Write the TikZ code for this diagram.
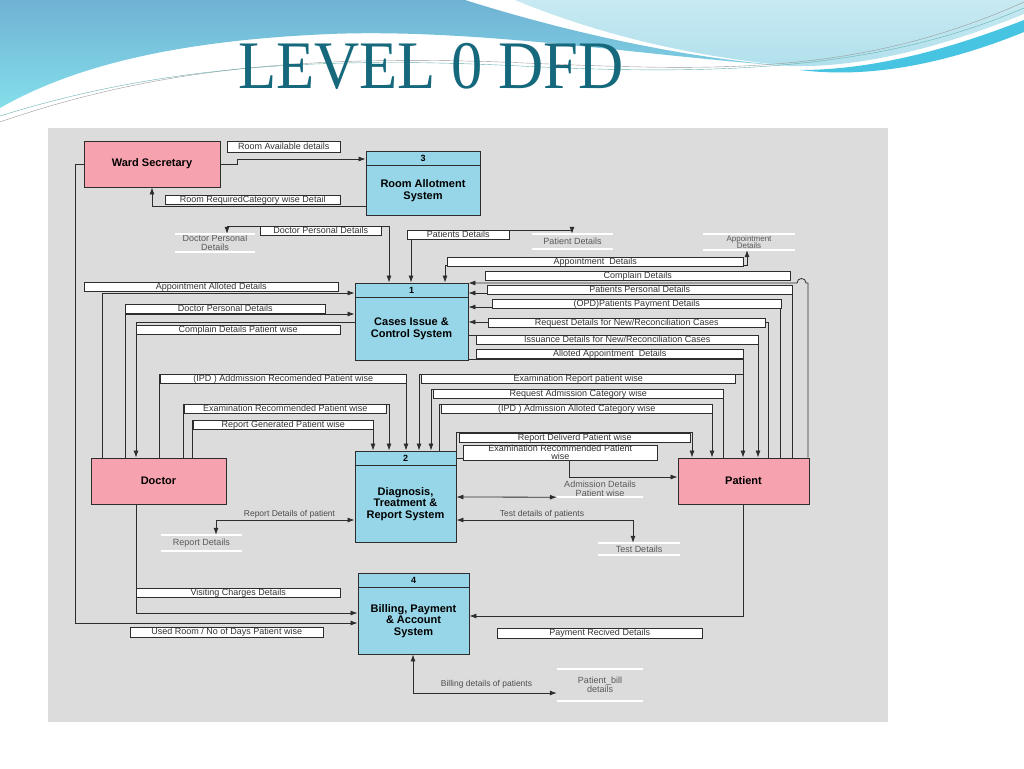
\documentclass[tikz,border=0pt]{standalone}
\usepackage{fontspec}
\setmainfont{Liberation Sans}
\newfontfamily\titlefont{Liberation Serif}
\usepackage{graphicx}
\usepackage{xcolor}
\usepackage{tikz}
\usetikzlibrary{arrows.meta,calc}

\definecolor{panelgray}{RGB}{220,220,220}
\definecolor{entpink}{RGB}{247,163,175}
\definecolor{procblue}{RGB}{150,214,232}
\definecolor{titleteal}{RGB}{22,105,125}
\definecolor{wavedark}{RGB}{112,178,212}
\definecolor{wavecyan}{RGB}{132,222,234}
\definecolor{wavelight}{RGB}{176,224,236}
\definecolor{wavestripe}{RGB}{70,196,226}
\definecolor{linegray}{RGB}{45,45,45}

\begin{document}
\begin{tikzpicture}[x=1pt,y=-1pt,>={Latex[length=7,width=5]},
  flow/.style={draw=linegray,line width=0.8pt},
  entity/.style={draw=linegray,line width=0.9pt,fill=entpink,font=\fontsize{11}{12}\selectfont\bfseries},
  proc/.style={draw=linegray,line width=0.9pt,fill=procblue},
  procnum/.style={font=\fontsize{9}{10}\selectfont\bfseries,inner sep=0pt},
  proctxt/.style={align=center,font=\fontsize{11}{11.5}\selectfont\bfseries,inner sep=0pt},
  lblbox/.style={draw=linegray,line width=0.5pt,fill=white,inner sep=0.5pt,anchor=north west,
    font=\fontsize{9}{10}\selectfont,text=black!80},
  lbl/.style={lblbox,text height=6.3,text depth=1.7},
  store/.style={inner sep=0pt,align=center,font=\fontsize{9}{8.5}\selectfont,text=black!65},
  storeln/.style={white,line width=1.5pt},
  ftxt/.style={font=\fontsize{8.5}{9}\selectfont,text=black!70}]

  \useasboundingbox (0,0) rectangle (1024,768);
  \fill[white] (0,0) rectangle (1024,768);
  \shade[top color=wavedark,bottom color=wavecyan] (0,0) -- (465,0)
    .. controls (560,30) and (680,58) .. (790,66)
    .. controls (660,58) and (480,28) .. (330,34)
    .. controls (190,40) and (80,62) .. (0,108) -- cycle;
  \shade[top color=wavelight!70!white,bottom color=wavelight] (515,0) -- (1024,0) -- (1024,14)
    .. controls (940,48) and (860,68) .. (790,66)
    .. controls (690,56) and (600,35) .. (515,0) -- cycle;
  \fill[wavestripe] (800,70) .. controls (880,70) and (960,45) .. (1024,20)
    -- (1024,32) .. controls (960,58) and (880,80) .. (800,70) -- cycle;
  \draw[black!40,line width=0.4pt] (0,122) .. controls (150,70) and (300,55) .. (500,62)
    .. controls (700,70) and (850,80) .. (1024,2);
  \draw[teal!60,line width=0.4pt] (0,116) .. controls (160,66) and (320,56) .. (520,66)
    .. controls (720,76) and (880,70) .. (1024,8);
  \node[font=\titlefont\fontsize{68}{68}\selectfont,text=titleteal] (title) at (431,66)
    {\scalebox{0.92}[1]{LEVEL 0 DFD}};

  \fill[panelgray] (48,128) rectangle (888,722);

  \node[entity,minimum width=136,minimum height=46] (ws) at (152,164) {Ward Secretary};
  \node[entity,minimum width=135,minimum height=46] (doc) at (158.5,481) {Doctor};
  \node[entity,minimum width=131,minimum height=46] (pat) at (743.5,481) {Patient};

  \node[proc,minimum width=114,minimum height=64] (p3) at (423,183) {};
  \draw[flow] ([yshift=-15pt]p3.north west) -- ([yshift=-15pt]p3.north east);
  \node[procnum] (p3n) at ($(p3.north)+(0,7.5)$) {3};
  \node[proctxt] (p3t) at ($(p3.center)+(0,7.5)$) {Room Allotment\\System};

  \node[proc,minimum width=113,minimum height=77] (p1) at (411.5,321.5) {};
  \draw[flow] ([yshift=-15pt]p1.north west) -- ([yshift=-15pt]p1.north east);
  \node[procnum] (p1n) at ($(p1.north)+(0,7.5)$) {1};
  \node[proctxt] (p1t) at ($(p1.center)+(0,7.5)$) {Cases Issue \&\\Control System};

  \node[proc,minimum width=101,minimum height=91] (p2) at (405.5,496.5) {};
  \draw[flow] ([yshift=-15pt]p2.north west) -- ([yshift=-15pt]p2.north east);
  \node[procnum] (p2n) at ($(p2.north)+(0,7.5)$) {2};
  \node[proctxt] (p2t) at ($(p2.center)+(0,7.5)$) {Diagnosis,\\Treatment \&\\Report System};

  \node[proc,minimum width=111,minimum height=81] (p4) at (413.5,613.5) {};
  \draw[flow] ([yshift=-15pt]p4.north west) -- ([yshift=-15pt]p4.north east);
  \node[procnum] (p4n) at ($(p4.north)+(0,7.5)$) {4};
  \node[proctxt] (p4t) at ($(p4.center)+(0,7.5)$) {Billing, Payment\\\& Account\\System};

  \node[store,minimum width=80,minimum height=18] (sdoc) at (215,243) {Doctor Personal\\Details};
  \node[store,minimum width=81,minimum height=15] (spd) at (572.5,241.5) {Patient Details};
  \node[store,minimum width=92,minimum height=16,font=\fontsize{8}{7.5}\selectfont] (sapp) at (749,242) {Appointment\\Details};
  \node[store,minimum width=81,minimum height=16] (srep) at (201.5,543) {Report Details};
  \node[store,minimum width=86,minimum height=16] (sadm) at (600,489) {Admission Details\\Patient wise};
  \node[store,minimum width=82,minimum height=12] (stest) at (639,549) {Test Details};
  \node[store,minimum width=86,minimum height=32] (sbill) at (600,685) {Patient\_bill\\details};
  \draw[storeln] (sdoc.north west) -- (sdoc.north east) (sdoc.south west) -- (sdoc.south east);
  \draw[storeln] (spd.north west) -- (spd.north east) (spd.south west) -- (spd.south east);
  \draw[storeln] (sapp.north west) -- (sapp.north east) (sapp.south west) -- (sapp.south east);
  \draw[storeln] (srep.north west) -- (srep.north east) (srep.south west) -- (srep.south east);
  \draw[storeln] (sadm.south west) -- (sadm.south east);
  \draw[storeln] (stest.north west) -- (stest.north east) (stest.south west) -- (stest.south east);
  \draw[storeln] (sbill.north west) -- (sbill.north east) (sbill.south west) -- (sbill.south east);

  \draw[flow,->] (ws.east) -- (237,164) -- (237,159) -- (p3.west |- 0,159);
  \draw[flow,->] (p3.west |- 0,206) -| (ws.south);
  \draw[flow,->] (ws.west) -| (75,623) -- (p4.west |- 0,623);

  \draw[flow,<->] (p1.north -| 389,0) |- (227,226) -- (sdoc.north -| 227,0);
  \draw[flow,<->] (p1.north -| 411,0) |- (572,230) -- (spd.north -| 572,0);
  \draw[flow,<->] (p1.north -| 445,0) |- (747,265) -- (sapp.south -| 747,0);

  \draw[flow,->] (pat.north -| 808,0) -- (808,283) -- (806,283)
    .. controls (806,277) and (797,277) .. (797,283) -- (p1.east |- 0,283);
  \draw[flow,->] (pat.north -| 792,0) |- (p1.east |- 0,293);
  \draw[flow,->] (pat.north -| 780,0) |- (p1.east |- 0,307);
  \draw[flow,->] (pat.north -| 768,0) |- (p1.east |- 0,322);
  \draw[flow,->] (p1.east |- 0,335) -| (pat.north -| 758,0);
  \draw[flow,->] (p1.east |- 0,359) -| (pat.north -| 743,0);

  \draw[flow,->] (doc.north -| 102,0) |- (p1.west |- 0,293);
  \draw[flow,->] (doc.north -| 125,0) |- (p1.west |- 0,314);
  \draw[flow,->] (p1.west |- 0,322) -| (doc.north -| 136,0);

  \draw[flow,->] (doc.north -| 159,0) |- (406,374) -- (p2.north -| 406,0);
  \draw[flow,->] (doc.north -| 183,0) |- (389,404) -- (p2.north -| 389,0);
  \draw[flow,->] (doc.north -| 192,0) |- (373,420) -- (p2.north -| 373,0);

  \coordinate (jn) at (743,374);
  \draw[flow,->] (jn) -- (419,374) -- (p2.north -| 419,0);
  \draw[flow,->] (pat.north -| 723,0) |- (431,389) -- (p2.north -| 431,0);
  \draw[flow,->] (p2.north -| 439,0) |- (712,404) -- (pat.north -| 712,0);
  \draw[flow,->] (p2.north east) |- (692,432) -- (pat.north -| 692,0);
  \draw[flow,->] (p2.east |- 0,458) -- (569,458) -- (569,477) -- (pat.west |- 0,477);

  \draw[flow,<->] (p2.west |- 0,520) -| (srep.north -| 216,0);
  \draw[flow,<->] (p2.east |- 0,497) -- (sadm.south west);
  \draw[flow,<->] (p2.east |- 0,520) -| (stest.north -| 633,0);

  \draw[flow,->] (doc.south -| 136,0) |- (p4.west |- 0,613);
  \draw[flow,->] (pat.south) |- (p4.east |- 0,616);
  \draw[flow,<->] (p4.south -| 413,0) |- (sbill.west |- 0,693);

  \node[ftxt] (trep) at (289.5,514) {Report Details of patient};
  \node[ftxt] (ttest) at (542,514) {Test details of patients};
  \node[ftxt] (tbill) at (486.5,684) {Billing details of patients};

  \node[lbl,minimum width=113,minimum height=11] (lroomav) at (227,141) {Room Available details};
  \node[lbl,minimum width=175] (lroomreq) at (165,195) {Room RequiredCategory wise Detail};
  \node[lbl,minimum width=193,minimum height=10] (lused) at (130,627) {Used Room / No of Days Patient wise};
  \node[lbl,minimum width=121] (ldocpd) at (260,226) {Doctor Personal Details};
  \node[lbl,minimum width=102] (lpatd) at (407,230) {Patients Details};
  \node[lbl,minimum width=296] (lappd) at (447,257) {Appointment\ \ Details};
  \node[lbl,minimum width=305] (lcomp) at (485,271) {Complain Details};
  \node[lbl,minimum width=305] (lppd) at (487,285) {Patients Personal Details};
  \node[lbl,minimum width=289] (lopd) at (492,299) {(OPD)Patients Payment Details};
  \node[lbl,minimum width=277] (lreq) at (488,318) {Request Details for New/Reconciliation Cases};
  \node[lbl,minimum width=282] (liss) at (476,335) {Issuance Details for New/Reconciliation Cases};
  \node[lbl,minimum width=267] (lallot) at (476,349) {Alloted Appointment\ \ Details};
  \node[lbl,minimum width=254] (lapall) at (84,282) {Appointment Alloted Details};
  \node[lbl,minimum width=200] (ldocp) at (125,304) {Doctor Personal Details};
  \node[lbl,minimum width=204] (lcompw) at (136,325) {Complain Details Patient wise};
  \node[lbl,minimum width=246] (lipdrec) at (160,374) {(IPD ) Addmission Recomended Patient wise};
  \node[lbl,minimum width=202] (lexrec) at (184,404) {Examination Recommended Patient wise};
  \node[lbl,minimum width=180] (lrepgen) at (193,420) {Report Generated Patient wise};
  \node[lbl,minimum width=314] (lexrep) at (421,374) {Examination Report patient wise};
  \node[lbl,minimum width=290] (lreqadm) at (433,389) {Request Admission Category wise};
  \node[lbl,minimum width=271] (lipdall) at (441,404) {(IPD ) Admission Alloted Category wise};
  \node[lbl,minimum width=231] (lrepdel) at (459,433) {Report Deliverd Patient wise};
  \node[lblbox,minimum width=194,align=center,inner sep=0pt,
    font=\fontsize{9}{8}\selectfont] (lexrec2) at (463,445) {Examination Recommended Patient\\wise};
  \node[lbl,minimum width=204] (lvisit) at (136,588) {Visiting Charges Details};
  \node[lbl,minimum width=205,minimum height=10] (lpayrec) at (497,628) {Payment Recived Details};
\end{tikzpicture}
\end{document}
